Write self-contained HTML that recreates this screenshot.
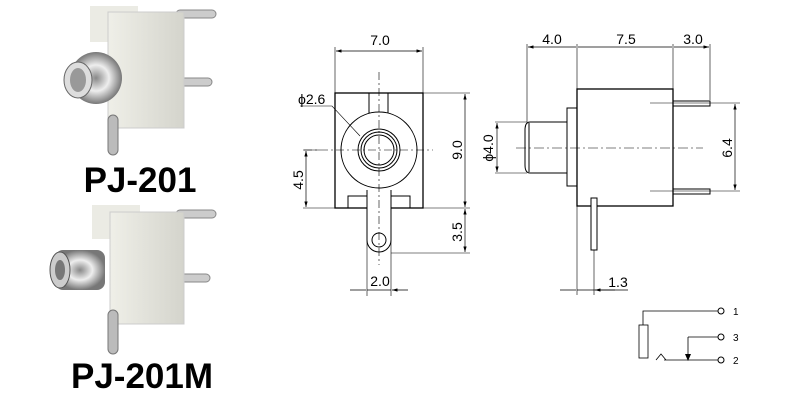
<!DOCTYPE html><html><head><style>body{margin:0;background:#fff}svg{display:block}text{font-family:"Liberation Sans",Arial,sans-serif}</style></head><body>
<svg width="800" height="401" viewBox="0 0 800 401" xmlns="http://www.w3.org/2000/svg">
<defs>
<linearGradient id="w" x1="0" x2="1"><stop offset="0" stop-color="#efefe8"/><stop offset="1" stop-color="#d4d4cc"/></linearGradient>
<radialGradient id="m"><stop offset="0" stop-color="#888"/><stop offset="0.5" stop-color="#eee"/><stop offset="1" stop-color="#777"/></radialGradient>
<marker id="a" viewBox="0 0 10 6" refX="10" refY="3" markerWidth="8" markerHeight="5" orient="auto-start-reverse"><path d="M0,0L10,3L0,6z" fill="#000"/></marker>
</defs>
<g>
<rect x="176" y="10" width="40" height="8" rx="4" fill="#ccc" stroke="#888"/>
<rect x="176" y="78" width="36" height="8" rx="4" fill="#ccc" stroke="#888"/>
<rect x="90" y="6" width="48" height="36" fill="#ebebe4"/>
<rect x="108" y="12" width="76" height="116" fill="url(#w)" stroke="#ccc"/>
<rect x="108" y="115" width="10" height="40" rx="5" fill="#bbb" stroke="#777"/>
<circle cx="96" cy="78" r="26" fill="url(#m)"/>
<ellipse cx="78" cy="80" rx="14" ry="18" fill="#ddd" stroke="#666"/>
<ellipse cx="78" cy="80" rx="8" ry="12" fill="#999"/>
</g>
<text x="140" y="192" font-size="35" font-weight="bold" text-anchor="middle">PJ-201</text>
<g>
<rect x="176" y="210" width="40" height="8" rx="4" fill="#ccc" stroke="#888"/>
<rect x="176" y="274" width="34" height="8" rx="4" fill="#ccc" stroke="#888"/>
<rect x="92" y="205" width="48" height="34" fill="#ebebe4"/>
<rect x="110" y="212" width="74" height="112" fill="url(#w)" stroke="#ccc"/>
<rect x="108" y="310" width="10" height="44" rx="5" fill="#bbb" stroke="#777"/>
<rect x="55" y="250" width="50" height="40" rx="8" fill="url(#m)"/>
<ellipse cx="60" cy="270" rx="10" ry="18" fill="#ccc" stroke="#555"/>
<ellipse cx="60" cy="270" rx="5" ry="10" fill="#777"/>
</g>
<text x="142" y="388" font-size="35" font-weight="bold" text-anchor="middle">PJ-201M</text>

<g fill="none" stroke="#000" stroke-width="1">
<rect x="335" y="93" width="88" height="115" stroke-width="1.3"/>
<rect x="369" y="93" width="19" height="20"/>
<circle cx="379" cy="150" r="38" fill="#fff"/>
<circle cx="379" cy="150" r="21"/><circle cx="379" cy="150" r="18"/><circle cx="379" cy="150" r="15"/>
<rect x="348" y="196" width="19" height="12"/><rect x="391" y="196" width="19" height="12"/>
<path d="M367,190V240A12,12 0 0 0 391,240V190" fill="#fff"/>
<circle cx="379" cy="240" r="7"/>
<g stroke-dasharray="8,3,2,3" stroke-width="0.6"><path d="M379,72V265M304,150H433"/></g>
<g stroke-width="0.6">
<path d="M335,47V93M423,47V93M423,93H470M423,208H470M391,253H470M303,208H335M303,150H320M367,240V296M391,240V296"/>
<path d="M300,106H332L360,136"/>
</g>
<path d="M336,51H422" marker-start="url(#a)" marker-end="url(#a)" stroke-width="0.7"/>
<path d="M465,94V207" marker-start="url(#a)" marker-end="url(#a)" stroke-width="0.7"/>
<path d="M465,209V252" marker-start="url(#a)" marker-end="url(#a)" stroke-width="0.7"/>
<path d="M306,151V207" marker-start="url(#a)" marker-end="url(#a)" stroke-width="0.7"/>
<path d="M350,290H366M408,290H392" marker-end="url(#a)" stroke-width="0.7"/>
<path d="M367,290H391" stroke-width="0.7"/>
<rect x="577" y="89" width="96" height="117" stroke-width="1.3"/>
<rect x="567" y="108" width="10" height="78"/>
<path d="M567,122H530Q525,122 525,130V165Q525,173 530,173H567"/>
<path d="M529,123V172"/>
<rect x="673" y="101" width="37" height="5"/><rect x="673" y="189" width="37" height="5"/>
<rect x="591" y="198" width="6" height="52" fill="#fff"/>
<path d="M516,148H703" stroke-dasharray="10,3,2,3" stroke-width="0.6"/>
<g stroke-width="0.6">
<path d="M527,44V122M577,44V89M673,44V89M710,44V100M495,122H527M495,173H527M650,103H740M650,191H740M577,206V295M594,250V295"/>
</g>
<path d="M528,47H576M578,47H672M674,47H709" marker-start="url(#a)" marker-end="url(#a)" stroke-width="0.7"/>
<path d="M497,123V172" marker-start="url(#a)" marker-end="url(#a)" stroke-width="0.7"/>
<path d="M735,104V190" marker-start="url(#a)" marker-end="url(#a)" stroke-width="0.7"/>
<path d="M560,290H576M615,290H595" marker-end="url(#a)" stroke-width="0.7"/>
<path d="M577,290H628" stroke-width="0.7"/>
<path d="M643,325V311H718M688,337H718M688,337V357M664,360H718M656,360L661,354L666,360" stroke-width="0.8"/>
<rect x="639" y="325" width="9" height="33" stroke-width="0.8"/>
<circle cx="721" cy="311" r="3"/><circle cx="721" cy="337" r="3"/><circle cx="721" cy="360" r="3"/>
</g>
<path d="M685,354L688,361L691,354z" fill="#000"/>
<g font-size="14">
<text x="380" y="45" text-anchor="middle">7.0</text>
<text x="298" y="104">ϕ2.6</text>
<text x="380" y="286" text-anchor="middle">2.0</text>
<text transform="translate(462,150) rotate(-90)" text-anchor="middle">9.0</text>
<text transform="translate(462,232) rotate(-90)" text-anchor="middle">3.5</text>
<text transform="translate(303,180) rotate(-90)" text-anchor="middle">4.5</text>
<text x="552" y="44" text-anchor="middle">4.0</text>
<text x="626" y="44" text-anchor="middle">7.5</text>
<text x="693" y="44" text-anchor="middle">3.0</text>
<text transform="translate(493,148) rotate(-90)" text-anchor="middle">ϕ4.0</text>
<text transform="translate(732,148) rotate(-90)" text-anchor="middle">6.4</text>
<text x="618" y="287" text-anchor="middle">1.3</text>
</g>
<g font-size="10"><text x="733" y="315">1</text><text x="733" y="341">3</text><text x="733" y="364">2</text></g>
</svg>
</body></html>
